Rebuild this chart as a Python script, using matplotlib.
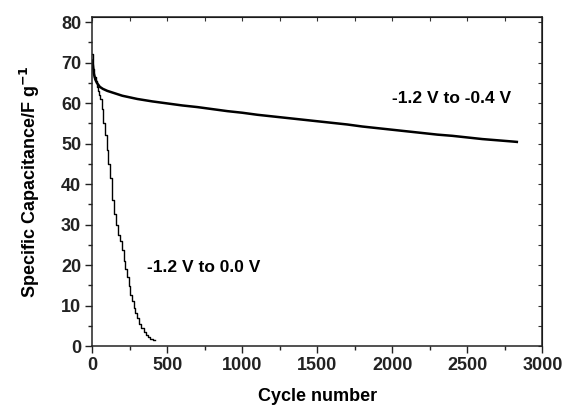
import numpy as np
import matplotlib.pyplot as plt

plt.rcParams['font.family'] = ['Liberation Sans', 'DejaVu Sans']
plt.rcParams['font.weight'] = 'bold'

# -1.2 V to -0.4 V
cyc_a = [0, 5, 10, 20, 30, 50, 70, 100, 150, 200, 250, 300, 400, 500, 600, 700, 800, 900,
         1000, 1100, 1200, 1300, 1400, 1500, 1600, 1700, 1800, 1900, 2000, 2100, 2200,
         2300, 2400, 2500, 2600, 2700, 2800, 2830]
cap_a = [70.5, 69.0, 67.3, 65.8, 65.0, 64.0, 63.5, 63.0, 62.4, 61.8, 61.4, 61.0, 60.4, 59.9,
         59.4, 59.0, 58.5, 58.0, 57.6, 57.1, 56.7, 56.3, 55.9, 55.5, 55.1, 54.7, 54.2, 53.8,
         53.4, 53.0, 52.6, 52.2, 51.9, 51.5, 51.1, 50.8, 50.5, 50.4]

# -1.2 V to 0.0 V
cyc_b = [0, 5, 10, 18, 25, 33, 40, 50, 58, 68, 80, 90, 100, 110, 120, 136, 150, 165, 180,
         190, 203, 215, 225, 237, 247, 260, 270, 282, 292, 305, 320, 335, 350, 365, 380,
         395, 415]
cap_b = [72.0, 69.5, 68.5, 66.5, 65.5, 64.0, 63.0, 62.0, 61.0, 58.5, 55.0, 52.0, 48.5, 45.0,
         41.5, 36.0, 32.5, 30.0, 27.5, 26.0, 23.8, 21.0, 19.0, 17.0, 14.7, 12.5, 11.0, 9.5,
         8.2, 7.0, 5.5, 4.5, 3.5, 2.8, 2.3, 1.8, 1.4]

fig = plt.figure(figsize=(5.65, 4.09), dpi=100)
ax = fig.add_axes([0.1634, 0.154, 0.7965, 0.805])

ax.plot(cyc_a, cap_a, color='black', lw=1.8)
ax.plot(cyc_b, cap_b, color='black', lw=1.0, drawstyle='steps-mid')

ax.text(2000, 61, '-1.2 V to -0.4 V', fontsize=12.5, fontweight='bold', va='center')
ax.text(365, 19.3, '-1.2 V to 0.0 V', fontsize=12.5, fontweight='bold', va='center')

ax.set_xlim(0, 3000)
ax.set_ylim(0, 81.3)
ax.set_xticks(np.arange(0, 3001, 500))
ax.set_xticks(np.arange(0, 3001, 250), minor=True)
ax.set_yticks(np.arange(0, 81, 10))
ax.set_yticks(np.arange(0, 81, 5), minor=True)

ax.tick_params(which='both', direction='out', top=False, right=False, labelsize=13, width=1, colors='#222222')
ax.tick_params(which='major', length=5, pad=3)
ax.tick_params(which='minor', length=3)
for lab in ax.get_xticklabels() + ax.get_yticklabels():
    lab.set_fontweight('bold')

# inward ticks on the top and right sides
top = ax.secondary_xaxis('top')
top.set_xticks(np.arange(0, 3001, 250))
top.tick_params(direction='in', length=3, labeltop=False, colors='#333333')
right = ax.secondary_yaxis('right')
right.set_yticks(np.arange(0, 81, 5))
right.tick_params(direction='in', length=3, labelright=False, colors='#333333')

for s in ax.spines.values():
    s.set_linewidth(1.1)
    s.set_color('#222222')

ax.set_xlabel('Cycle number', fontsize=13, fontweight='bold', labelpad=10)
ax.set_ylabel('Specific Capacitance/F g$^{\\mathbf{-1}}$', fontsize=13, fontweight='bold', labelpad=14)

fig.savefig('out.png', dpi=100)
